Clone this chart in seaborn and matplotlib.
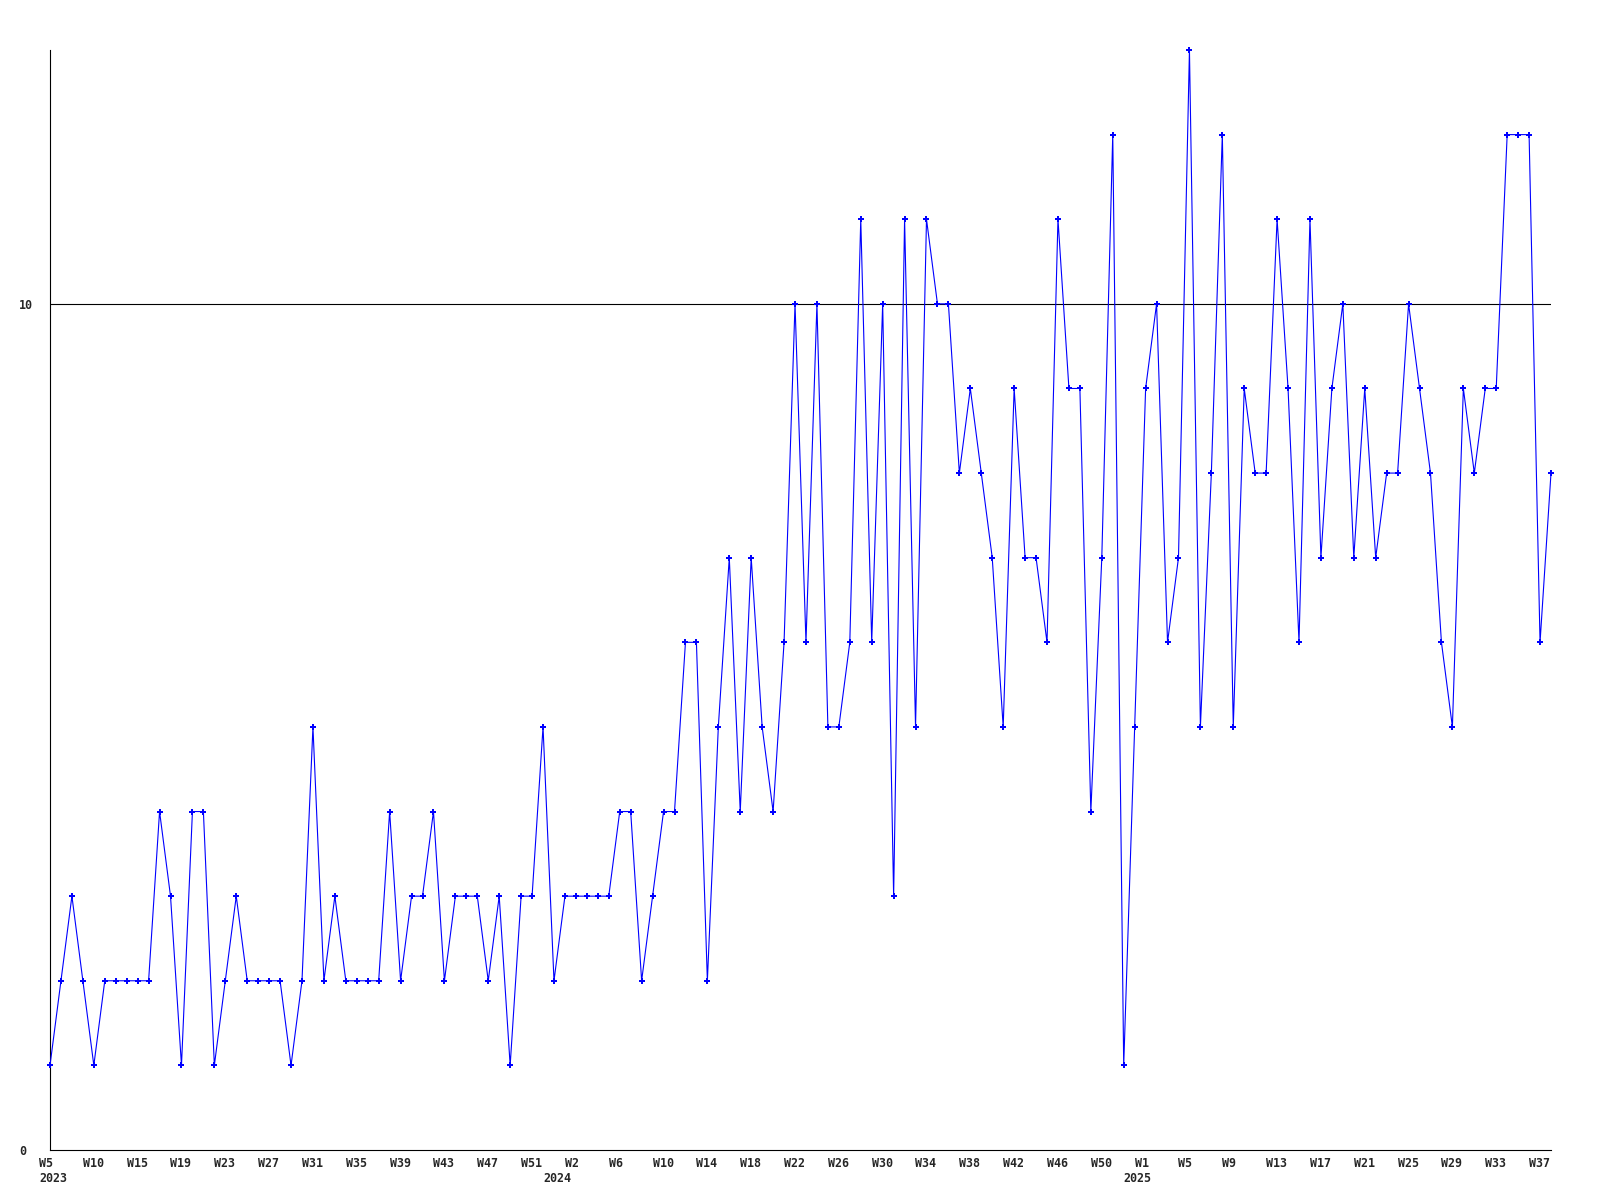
import matplotlib
matplotlib.use("Agg")
import matplotlib.pyplot as plt
import matplotlib.transforms as mtransforms
import seaborn as sns
import pandas as pd

# weekly counts, 2023 W5 .. 2025 W38 (one point per week on the axis)
values = [
    1, 2, 3, 2, 1, 2, 2, 2, 2, 2,
    4, 3, 1, 4, 4, 1, 2, 3, 2, 2,
    2, 2, 1, 2, 5, 2, 3, 2, 2, 2,
    2, 4, 2, 3, 3, 4, 2, 3, 3, 3,
    2, 3, 1, 3, 3, 5, 2, 3, 3, 3,
    3, 3, 4, 4, 2, 3, 4, 4, 6, 6,
    2, 5, 7, 4, 7, 5, 4, 6, 10, 6,
    10, 5, 5, 6, 11, 6, 10, 3, 11, 5,
    11, 10, 10, 8, 9, 8, 7, 5, 9, 7,
    7, 6, 11, 9, 9, 4, 7, 12, 1, 5,
    9, 10, 6, 7, 13, 5, 8, 12, 5, 9,
    8, 8, 11, 9, 6, 11, 7, 9, 10, 7,
    9, 7, 8, 8, 10, 9, 8, 6, 5, 9,
    8, 9, 9, 12, 12, 12, 6, 8,
]

# tick labels, one every 4th point
week_labels = [
    "W5", "W10", "W15", "W19", "W23", "W27", "W31", "W35", "W39", "W43",
    "W47", "W51", "W2", "W6", "W10", "W14", "W18", "W22", "W26", "W30",
    "W34", "W38", "W42", "W46", "W50", "W1", "W5", "W9", "W13", "W17",
    "W21", "W25", "W29", "W33", "W37",
]
# year labels and the point where each year starts
years = ["2023", "2024", "2025"]
year_start = [0, 46, 99]

df = pd.DataFrame({"idx": range(len(values)), "count": values})

sns.set_style("white")
plt.rcParams["font.family"] = ["DejaVu Sans Mono", "DejaVu Sans"]
plt.rcParams["font.weight"] = "bold"

fig = plt.figure(figsize=(16, 12), dpi=100)
ax = fig.add_axes([50 / 1600, 50 / 1200, 1501 / 1600, 1100 / 1200])

sns.lineplot(data=df, x="idx", y="count", ax=ax, color="#0000ff",
             linewidth=0.8, marker="P", markersize=4.5, markeredgewidth=0,
             clip_on=False, zorder=3)

ax.set_xlim(0, len(values) - 1)
ax.set_ylim(0, 13)

# y axis: only 0 and 10, with a rule at 10
ax.set_yticks([0, 10])
ax.set_yticklabels(["0", "10"])
ax.axhline(10, color="black", linewidth=0.8, zorder=1)

ax.set_xticks(list(range(0, len(values), 4)))
ax.set_xticklabels(week_labels)

ax.tick_params(axis="x", length=0, pad=5, labelsize=8.4)
ax.tick_params(axis="y", length=0, pad=22.5, labelsize=8.4)

shift_x = mtransforms.ScaledTranslation(-11 / 100, 0, fig.dpi_scale_trans)
for lab in ax.get_xticklabels():
    lab.set_horizontalalignment("left")
    lab.set_fontweight("bold")
    lab.set_transform(lab.get_transform() + shift_x)
for lab in ax.get_yticklabels():
    lab.set_horizontalalignment("left")
    lab.set_fontweight("bold")

# year row under the week labels
year_trans = (mtransforms.blended_transform_factory(ax.transData, ax.transAxes)
              + mtransforms.ScaledTranslation(-11 / 100, -28 / 100,
                                              fig.dpi_scale_trans))
for pos, yr in zip(year_start, years):
    ax.text(pos, 0, yr, transform=year_trans, ha="left", va="center",
            fontsize=8.4, fontweight="bold")

for side in ["top", "right"]:
    ax.spines[side].set_visible(False)
for side in ["left", "bottom"]:
    ax.spines[side].set_color("black")
    ax.spines[side].set_linewidth(0.8)

ax.set_xlabel("")
ax.set_ylabel("")

fig.savefig("out.png", dpi=100, facecolor="white")
